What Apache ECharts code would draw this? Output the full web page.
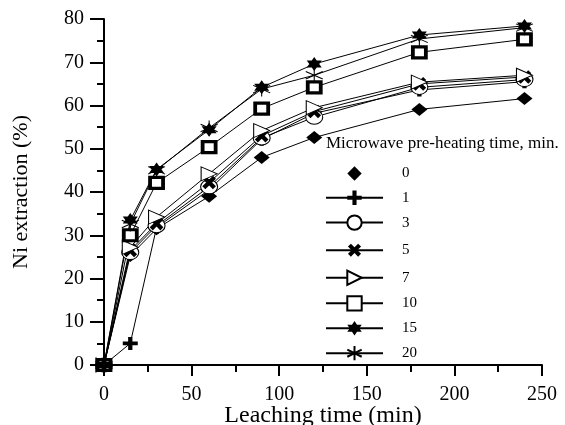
<!DOCTYPE html>
<html>
<head>
<meta charset="utf-8">
<script src="https://cdn.jsdelivr.net/npm/echarts@6/dist/echarts.min.js"></script>
<style>
  html, body { margin: 0; padding: 0; background: #fff; }
  #chart { width: 565px; height: 425px; }
</style>
</head>
<body>
<div id="chart"></div>
<script>
// leaching time (min)
const times = [0, 15, 30, 60, 90, 120, 180, 240];
// microwave pre-heating time, min.
const names = ["0", "1", "3", "5", "7", "10", "15", "20"];

const ni0 = [0, 25.3, 31.5, 39.0, 48.0, 52.6, 59.1, 61.6];
const ni1 = [0, 5.0, 31.8, 40.5, 52.2, 58.2, 63.6, 65.5];
const ni3 = [0, 26.0, 32.2, 41.2, 52.5, 57.3, 64.2, 66.0];
const ni5 = [0, 26.5, 32.7, 42.2, 53.0, 58.6, 65.0, 66.6];
const ni7 = [0, 27.2, 34.2, 44.2, 54.2, 59.5, 65.4, 67.0];
const ni10 = [0, 30.0, 42.1, 50.4, 59.3, 64.2, 72.3, 75.3];
const ni15 = [0, 33.5, 45.2, 54.4, 64.2, 69.6, 76.3, 78.4];
const ni20 = [0, 32.6, 45.0, 54.8, 63.8, 67.0, 75.4, 78.0];

const values = [ni0, ni1, ni3, ni5, ni7, ni10, ni15, ni20];

const serif = "Liberation Serif";
const black = "#000";
const plusPath = "path://M5,0h4v5h5v4h-5v5h-4v-5h-5v-4h5z";

// marker per series (the original figure is a bit wider than tall)
const symbols = [
  { symbol: "diamond", size: [16, 13], item: { color: black } },
  { symbol: plusPath, size: [15, 13], item: { color: black } },
  { symbol: "circle", size: [17, 14], item: { color: "#fff", borderColor: black, borderWidth: 1 } },
  { symbol: plusPath, size: [15, 15], rotate: 45, item: { color: black } },
  { symbol: "path://M0,0L14,7L0,14Z", size: [16, 14], item: { color: "#fff", borderColor: black, borderWidth: 1 } },
  { symbol: "rect", size: [13, 11], item: { color: "#fff", borderColor: black, borderWidth: 3.5 } },
  { symbol: "path://M0,-10L8.66,5L-8.66,5Z M0,10L-8.66,-5L8.66,-5Z", size: [15, 14], item: { color: black } },
  { symbol: "path://M0,-10V10M-8.66,-5L8.66,5M-8.66,5L8.66,-5", size: [17, 15], item: { color: black, borderColor: black, borderWidth: 1 } },
];

const chart = echarts.init(document.getElementById("chart"));

chart.setOption({
  backgroundColor: "#fff",
  animation: false,
  title: {
    text: "Microwave pre-heating time, min.",
    left: 326,
    top: 135,
    padding: 0,
    textStyle: { fontFamily: serif, fontSize: 17, fontWeight: "normal", color: black },
  },
  legend: {
    orient: "vertical",
    left: 325,
    top: 166,
    padding: 0,
    itemWidth: 57,
    itemHeight: 18,
    itemGap: 9.2,
    data: names.map((n, i) => (i === 0 ? { name: n, lineStyle: { opacity: 0 } } : { name: n })),
    textStyle: { fontFamily: serif, fontSize: 15, color: black, padding: [0, 0, 0, 14] },
  },
  grid: { left: 104, right: 23, top: 19, bottom: 60, outerBoundsMode: "none" },
  xAxis: {
    type: "value",
    min: 0,
    max: 250,
    interval: 50,
    name: "Leaching time (min)",
    nameLocation: "middle",
    nameGap: 39,
    nameMoveOverlap: false,
    nameTextStyle: { fontFamily: serif, fontSize: 24, color: black },
    axisLine: { onZero: false, lineStyle: { color: black, width: 2 } },
    axisTick: { inside: false, length: 11, lineStyle: { color: black, width: 2 } },
    minorTick: { show: true, splitNumber: 2, length: 7, lineStyle: { color: black, width: 2 } },
    axisLabel: { fontFamily: serif, fontSize: 20, color: black, margin: 20 },
    splitLine: { show: false },
  },
  yAxis: {
    type: "value",
    min: 0,
    max: 80,
    interval: 10,
    name: "Ni extraction (%)",
    nameLocation: "middle",
    nameGap: 72,
    nameMoveOverlap: false,
    nameTextStyle: { fontFamily: serif, fontSize: 22, color: black },
    axisLine: { lineStyle: { color: black, width: 2 } },
    axisTick: { inside: false, length: 14, lineStyle: { color: black, width: 2 } },
    minorTick: { show: true, splitNumber: 2, length: 7, lineStyle: { color: black, width: 2 } },
    axisLabel: { fontFamily: serif, fontSize: 20, color: black, margin: 20 },
    splitLine: { show: false },
  },
  series: names.map((n, i) => ({
    name: n,
    type: "line",
    data: times.map((t, j) => [t, values[i][j]]),
    symbol: symbols[i].symbol,
    symbolSize: symbols[i].size,
    symbolRotate: symbols[i].rotate || 0,
    itemStyle: symbols[i].item,
    lineStyle: { color: black, width: 1 },
    emphasis: { disabled: true },
  })),
});
</script>
</body>
</html>
